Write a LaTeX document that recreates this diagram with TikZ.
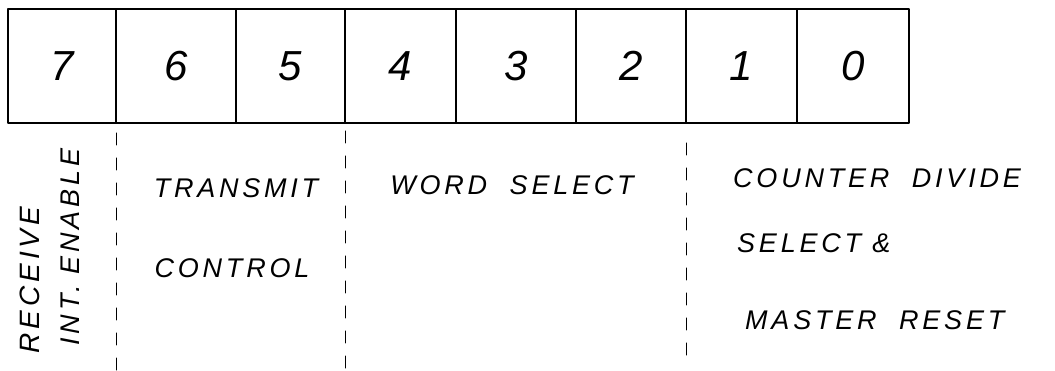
\documentclass[tikz,border=0pt]{standalone}
\usepackage{fontspec}
\setmainfont{Liberation Sans}[LetterSpace=14]
\usepackage{tikz}
\usetikzlibrary{positioning}
\tikzset{every node/.style={font=\itshape}, every path/.style={line cap=round, line join=round},
    bitcell/.style={draw, line width=1.1pt, minimum width=#1, minimum height=114pt, inner sep=0pt, outer sep=0pt, font=\fontsize{42}{46}\selectfont\itshape},
    bitcell/.default=112.6pt,
    handtext/.style={inner sep=0pt, font=\fontsize{27}{30}\selectfont\itshape},
    divider/.style={line width=1pt, dash pattern=on 12pt off 13pt}}

\begin{document}
\begin{tikzpicture}[x=1pt, y=-1pt, node distance=0pt]
    \useasboundingbox (0,0) rectangle (1055,371);
    % register bits
    \node [bitcell=108pt, anchor=north west] (bit7) at (8,9) {7};
    \node [bitcell=120pt, right=of bit7] (bit6) {6};
    \node [bitcell=109pt, right=of bit6] (bit5) {5};
    \node [bitcell=111pt, right=of bit5] (bit4) {4};
    \node [bitcell=120pt, right=of bit4] (bit3) {3};
    \node [bitcell=110pt, right=of bit3] (bit2) {2};
    \node [bitcell=111pt, right=of bit2] (bit1) {1};
    \node [bitcell=112pt, right=of bit1] (bit0) {0};
    % field boundaries
    \draw [divider] ([yshift=-10pt]bit6.south west) -- ++(0,238);
    \draw [divider] ([yshift=-8pt]bit4.south west) -- ++(0,240);
    \draw [divider] ([yshift=-20pt]bit1.south west) -- ++(0,212);
    % field names
    \node [handtext, rotate=90, font=\fontsize{28}{30}\selectfont\itshape] (rxa) at (30,280) {RECEIVE};
    \node [handtext, rotate=90] (rxb) at (70,247) {INT. ENABLE};
    \node [handtext] (txa) at (236,188) {TRANSMIT};
    \node [handtext] (txb) at (232,268) {CONTROL};
    \node [handtext] (wsel) at (512,185) {WORD\ \ SELECT};
    \node [handtext, anchor=west] (cnta) at (733,178) {COUNTER\ \ DIVIDE};
    \node [handtext, anchor=west] (cntb) at (737,243) {SELECT \&};
    \node [handtext, anchor=west] (cntc) at (745,320) {MASTER\ \ RESET};
\end{tikzpicture}
\end{document}
